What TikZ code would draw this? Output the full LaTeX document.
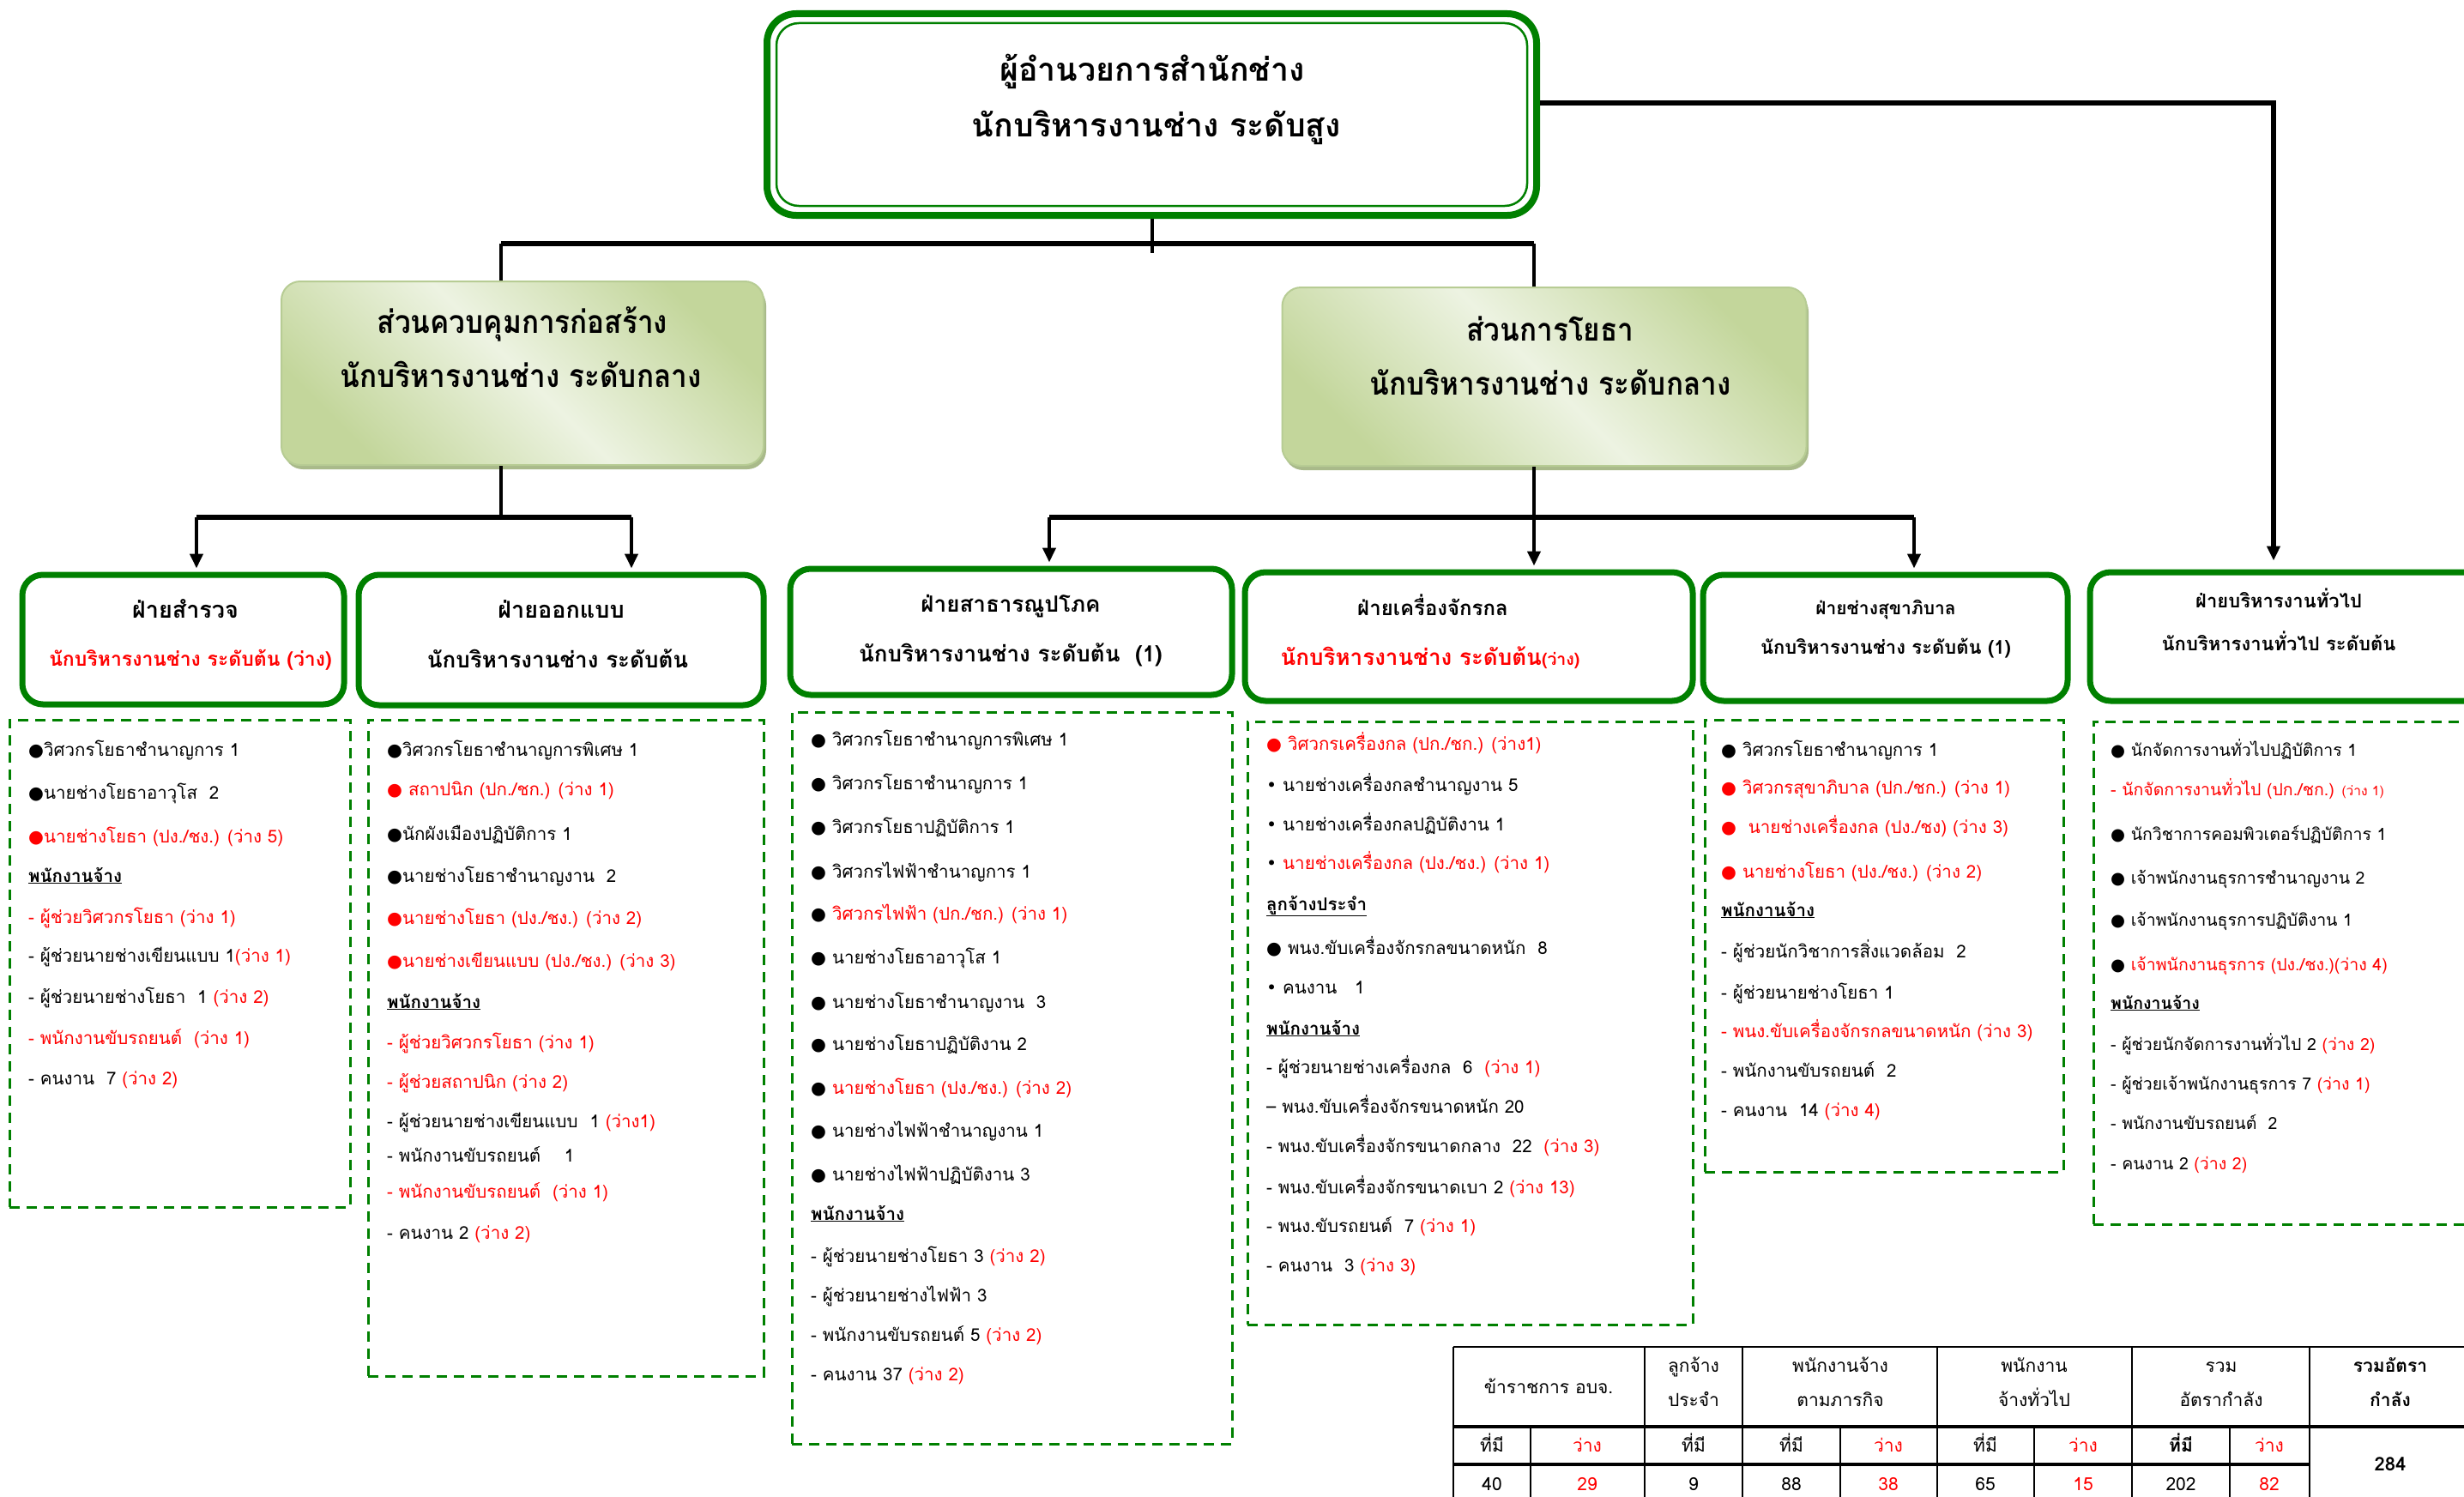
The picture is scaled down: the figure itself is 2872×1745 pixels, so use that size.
\documentclass[tikz,border=0pt]{standalone}
\usepackage{fontspec}
\usetikzlibrary{arrows.meta}
\newfontfamily\thw[Script=Thai]{Loma}
\newfontfamily\thm[Script=Thai,FakeStretch=0.9]{Loma}
\newfontfamily\dvs{DejaVu Sans}
\definecolor{gr}{HTML}{008000}
\definecolor{rdc}{HTML}{FF0000}
\definecolor{gA}{HTML}{C3D69B}
\definecolor{gB}{HTML}{EDF3E2}
\definecolor{gE}{HTML}{B7CC94}
\definecolor{gS}{HTML}{A9BA8A}
\newcommand\R[1]{\textcolor{rdc}{#1}}
\newcommand\B{{\dvs ●}}
\newcommand\SB{{\dvs •}}
\newcommand\U[1]{{\bfseries\underline{#1}}}
\newcommand\Ln[4]{\node[lst] (#1) at (#2,{#3+6}) {#4};}
\newcommand\Lm[4]{\node[lst, font=\thw\fontsize{19.5}{23}\selectfont] (#1) at (#2,{#3+6}) {#4};}
\tikzset{
 tb/.style={anchor=base, inner sep=0pt},
 lst/.style={anchor=base west, inner sep=0pt, font=\thw\fontsize{20.5}{24}\selectfont},
 dept/.style={draw=gr, line width=7pt, rounded corners=24pt, fill=white, inner sep=0pt},
 dbox/.style={draw=gr, line width=3pt, dash pattern=on 12pt off 8pt, inner sep=0pt},
 midbox/.style={draw=gE, line width=2pt, rounded corners=22pt, top color=gA, bottom color=gA, middle color=gB, shading angle=-45, inner sep=0pt},
 conn/.style={line width=4pt, black},
 bar/.style={line width=6pt, black},
 arr/.style={conn, -{Triangle[width=15pt,length=17pt]}},
 tcell/.style={anchor=base, inner sep=0pt, font=\thw\fontsize{21}{24}\selectfont},
 midtxt/.style={tb, font=\thm\bfseries\fontsize{37}{40}\selectfont},
 toptxt/.style={tb, font=\thw\bfseries\fontsize{37.5}{40}\selectfont},
}
\begin{document}
\begin{tikzpicture}[x=1pt,y=-1pt]
\useasboundingbox (0,0) rectangle (2872,1745);
\clip (0,0) rectangle (2872,1745);
\fill[white] (0,0) rectangle (2872,1745);

% ---------- top box
\node[draw=gr, line width=8pt, rounded corners=34pt, minimum width=897pt, minimum height=235pt, inner sep=0pt] (top) at (1342.5,133.5) {};
\draw[gr, line width=2.5pt, rounded corners=26pt] (905,27) rectangle (1780,240);
\node[toptxt] (tt1) at (1343,94) {ผู้อำนวยการสำนักช่าง};
\node[toptxt] (tt2) at (1348,159) {นักบริหารงานช่าง ระดับสูง};

% ---------- middle boxes
\fill[gS, rounded corners=22pt] (331,334) rectangle (893,547);
\node[midbox, minimum width=562pt, minimum height=214pt] (ml) at (609,435) {};
\fill[gS, rounded corners=22pt] (1497,341) rectangle (2108,548);
\node[midbox, minimum width=611pt, minimum height=208pt] (mr) at (1800,439) {};
\node[midtxt] (m1a) at (609,388) {ส่วนควบคุมการก่อสร้าง};
\node[midtxt] (m1b) at (607,451) {นักบริหารงานช่าง ระดับกลาง};
\node[midtxt] (m2a) at (1807,397) {ส่วนการโยธา};
\node[midtxt] (m2b) at (1807,460) {นักบริหารงานช่าง ระดับกลาง};

% ---------- department boxes
\node[dept, minimum width=375pt, minimum height=151pt] (b1) at (213.5,745.5) {};
\node[dept, minimum width=472pt, minimum height=152pt] (b2) at (654,746) {};
\node[dept, minimum width=515pt, minimum height=147pt] (b3) at (1178.5,736.5) {};
\node[dept, minimum width=522pt, minimum height=150pt] (b4) at (1712,742) {};
\node[dept, minimum width=425pt, minimum height=147pt] (b5) at (2197.5,743.5) {};
\node[dept, minimum width=464pt, minimum height=150pt] (b6) at (2668,742) {};

\node[tb, font=\thw\bfseries\fontsize{27}{32}\selectfont] (t1a) at (216,720) {ฝ่ายสำรวจ};
\node[tb, font=\thw\bfseries\fontsize{23}{28}\selectfont, text=rdc] (t1b) at (222,776) {นักบริหารงานช่าง ระดับต้น (ว่าง)};
\node[tb, font=\thw\bfseries\fontsize{27}{30}\selectfont] (t2a) at (654,720) {ฝ่ายออกแบบ};
\node[tb, font=\thw\bfseries\fontsize{26}{30}\selectfont] (t2b) at (650,778) {นักบริหารงานช่าง ระดับต้น};
\node[tb, font=\thw\bfseries\fontsize{26}{30}\selectfont] (t3a) at (1178,713) {ฝ่ายสาธารณูปโภค};
\node[tb, font=\thw\bfseries\fontsize{26}{30}\selectfont] (t3b) at (1178,771) {นักบริหารงานช่าง ระดับต้น~~(1)};
\node[tb, font=\thw\bfseries\fontsize{24}{30}\selectfont] (t4a) at (1670,717) {ฝ่ายเครื่องจักรกล};
\node[tb, font=\thw\bfseries\fontsize{26}{30}\selectfont, text=rdc] (t4b) at (1667,775) {นักบริหารงานช่าง ระดับต้น{\fontsize{19.5}{22}\selectfont(ว่าง)}};
\node[tb, font=\thw\bfseries\fontsize{21}{26}\selectfont] (t5a) at (2198,716) {ฝ่ายช่างสุขาภิบาล};
\node[tb, font=\thw\bfseries\fontsize{22}{26}\selectfont] (t5b) at (2198,762) {นักบริหารงานช่าง ระดับต้น (1)};
\node[tb, font=\thw\bfseries\fontsize{22}{26}\selectfont] (t6a) at (2656,708) {ฝ่ายบริหารงานทั่วไป};
\node[tb, font=\thw\bfseries\fontsize{22}{26}\selectfont] (t6b) at (2656,758) {นักบริหารงานทั่วไป ระดับต้น};

% ---------- connectors
\coordinate (jl) at (584,284);
\coordinate (jr) at (1788,284);
\coordinate (jb) at (1342.5,295);
\draw[conn] (top.south) -- (jb);
\draw[bar] (jl) -- (jr);
\draw[conn] (jl) -- (jl |- ml.north);
\draw[conn] (jr) -- (jr |- mr.north);

\coordinate (kl) at (584,603);
\coordinate (kl1) at (229,603);
\coordinate (kl2) at (736,603);
\draw[conn] (kl |- ml.south) -- (kl);
\draw[bar] (kl1) -- (kl2);
\draw[arr] (kl1) -- ([yshift=4pt]kl1 |- b1.north);
\draw[arr] (kl2) -- ([yshift=4pt]kl2 |- b2.north);

\coordinate (kr) at (1788,603);
\coordinate (kr1) at (1223,603);
\coordinate (kr2) at (2231,603);
\draw[arr] (kr |- mr.south) -- ([yshift=4pt]kr |- b4.north);
\draw[bar] (kr1) -- (kr2);
\draw[arr] (kr1) -- ([yshift=4pt]kr1 |- b3.north);
\draw[arr] (kr2) -- ([yshift=4pt]kr2 |- b5.north);

\coordinate (tr) at (2650,120);
\draw[bar, -{Triangle[width=15pt,length=17pt]}] (top.east |- tr) -- (tr) -- ([yshift=10pt]tr |- b6.north);

% ---------- dashed list boxes
\node[dbox, minimum width=397pt, minimum height=568pt] (d1) at (209.5,1123) {};
\node[dbox, minimum width=461pt, minimum height=765pt] (d2) at (659.5,1221.5) {};
\node[dbox, minimum width=513pt, minimum height=853pt] (d3) at (1179.5,1256.5) {};
\node[dbox, minimum width=519pt, minimum height=703pt] (d4) at (1713.5,1192.5) {};
\node[dbox, minimum width=418pt, minimum height=527pt] (d5) at (2196,1102.5) {};
\node[dbox, minimum width=450pt, minimum height=586pt] (d6) at (2665,1134) {};

% ---------- list 1
\Ln{l1a}{33}{875}{\B วิศวกรโยธาชำนาญการ 1}
\Ln{l1b}{33}{925}{\B นายช่างโยธาอาวุโส~~2}
\Ln{l1c}{33}{976}{\R{\B นายช่างโยธา (ปง./ชง.) (ว่าง 5)}}
\Ln{l1d}{33}{1022}{\U{พนักงานจ้าง}}
\Ln{l1e}{33}{1070}{\R{- ผู้ช่วยวิศวกรโยธา (ว่าง 1)}}
\Ln{l1f}{33}{1115}{- ผู้ช่วยนายช่างเขียนแบบ 1\R{(ว่าง 1)}}
\Ln{l1g}{33}{1163}{- ผู้ช่วยนายช่างโยธา~~1 \R{(ว่าง 2)}}
\Ln{l1h}{33}{1211}{\R{- พนักงานขับรถยนต์~~(ว่าง 1)}}
\Ln{l1i}{33}{1258}{- คนงาน~~7 \R{(ว่าง 2)}}

% ---------- list 2
\Ln{l2a}{451}{875}{\B วิศวกรโยธาชำนาญการพิเศษ 1}
\Ln{l2b}{451}{921}{\R{\B~สถาปนิก (ปก./ชก.) (ว่าง 1)}}
\Ln{l2c}{451}{973}{\B นักผังเมืองปฏิบัติการ 1}
\Ln{l2d}{451}{1022}{\B นายช่างโยธาชำนาญงาน~~2}
\Ln{l2e}{451}{1071}{\R{\B นายช่างโยธา (ปง./ชง.) (ว่าง 2)}}
\Ln{l2f}{451}{1121}{\R{\B นายช่างเขียนแบบ (ปง./ชง.) (ว่าง 3)}}
\Ln{l2g}{451}{1169}{\U{พนักงานจ้าง}}
\Ln{l2h}{451}{1216}{\R{- ผู้ช่วยวิศวกรโยธา (ว่าง 1)}}
\Ln{l2i}{451}{1262}{\R{- ผู้ช่วยสถาปนิก (ว่าง 2)}}
\Ln{l2j}{451}{1308}{- ผู้ช่วยนายช่างเขียนแบบ~~1 \R{(ว่าง1)}}
\Ln{l2k}{451}{1348}{- พนักงานขับรถยนต์~~~~1}
\Ln{l2l}{451}{1390}{\R{- พนักงานขับรถยนต์~~(ว่าง 1)}}
\Ln{l2m}{451}{1438}{- คนงาน 2 \R{(ว่าง 2)}}

% ---------- list 3
\Ln{l3a}{945}{863}{\B\ วิศวกรโยธาชำนาญการพิเศษ 1}
\Ln{l3b}{945}{914}{\B\ วิศวกรโยธาชำนาญการ 1}
\Ln{l3c}{945}{965}{\B\ วิศวกรโยธาปฏิบัติการ 1}
\Ln{l3d}{945}{1017}{\B\ วิศวกรไฟฟ้าชำนาญการ 1}
\Ln{l3e}{945}{1066}{\B\ \R{วิศวกรไฟฟ้า (ปก./ชก.) (ว่าง 1)}}
\Ln{l3f}{945}{1117}{\B\ นายช่างโยธาอาวุโส 1}
\Ln{l3g}{945}{1169}{\B\ นายช่างโยธาชำนาญงาน~~3}
\Ln{l3h}{945}{1218}{\B\ นายช่างโยธาปฏิบัติงาน 2}
\Ln{l3i}{945}{1269}{\B\ \R{นายช่างโยธา (ปง./ชง.) (ว่าง 2)}}
\Ln{l3j}{945}{1319}{\B\ นายช่างไฟฟ้าชำนาญงาน 1}
\Ln{l3k}{945}{1370}{\B\ นายช่างไฟฟ้าปฏิบัติงาน 3}
\Ln{l3l}{945}{1416}{\U{พนักงานจ้าง}}
\Ln{l3m}{945}{1465}{- ผู้ช่วยนายช่างโยธา 3 \R{(ว่าง 2)}}
\Ln{l3n}{945}{1511}{- ผู้ช่วยนายช่างไฟฟ้า 3}
\Ln{l3o}{945}{1557}{- พนักงานขับรถยนต์ 5 \R{(ว่าง 2)}}
\Ln{l3p}{945}{1603}{- คนงาน 37 \R{(ว่าง 2)}}

% ---------- list 4
\Ln{l4a}{1476}{868}{\R{\B\ วิศวกรเครื่องกล (ปก./ชก.) (ว่าง1)}}
\Ln{l4b}{1476}{916}{\SB\ นายช่างเครื่องกลชำนาญงาน 5}
\Ln{l4c}{1476}{962}{\SB\ นายช่างเครื่องกลปฏิบัติงาน 1}
\Ln{l4d}{1476}{1007}{\SB\ \R{นายช่างเครื่องกล (ปง./ชง.) (ว่าง 1)}}
\Ln{l4e}{1476}{1055}{\U{ลูกจ้างประจำ}}
\Ln{l4f}{1476}{1106}{\B\ พนง.ขับเครื่องจักรกลขนาดหนัก~~8}
\Ln{l4g}{1476}{1152}{\SB\ คนงาน~~~1}
\Ln{l4h}{1476}{1200}{\U{พนักงานจ้าง}}
\Ln{l4i}{1476}{1245}{- ผู้ช่วยนายช่างเครื่องกล~~6~~\R{(ว่าง 1)}}
\Ln{l4j}{1476}{1291}{– พนง.ขับเครื่องจักรขนาดหนัก 20}
\Ln{l4k}{1476}{1337}{- พนง.ขับเครื่องจักรขนาดกลาง~~22~~\R{(ว่าง 3)}}
\Ln{l4l}{1476}{1385}{- พนง.ขับเครื่องจักรขนาดเบา 2 \R{(ว่าง 13)}}
\Ln{l4m}{1476}{1430}{- พนง.ขับรถยนต์~~7 \R{(ว่าง 1)}}
\Ln{l4n}{1476}{1476}{- คนงาน~~3 \R{(ว่าง 3)}}

% ---------- list 5
\Ln{l5a}{2006}{875}{\B\ วิศวกรโยธาชำนาญการ 1}
\Ln{l5b}{2006}{919}{\R{\B\ วิศวกรสุขาภิบาล (ปก./ชก.) (ว่าง 1)}}
\Ln{l5c}{2006}{965}{\R{\B~~นายช่างเครื่องกล (ปง./ชง) (ว่าง 3)}}
\Ln{l5d}{2006}{1017}{\R{\B\ นายช่างโยธา (ปง./ชง.) (ว่าง 2)}}
\Ln{l5e}{2006}{1062}{\U{พนักงานจ้าง}}
\Ln{l5f}{2006}{1110}{- ผู้ช่วยนักวิชาการสิ่งแวดล้อม~~2}
\Ln{l5g}{2006}{1158}{- ผู้ช่วยนายช่างโยธา 1}
\Ln{l5h}{2006}{1203}{\R{- พนง.ขับเครื่องจักรกลขนาดหนัก (ว่าง 3)}}
\Ln{l5i}{2006}{1249}{- พนักงานขับรถยนต์~~2}
\Ln{l5j}{2006}{1295}{- คนงาน~~14 \R{(ว่าง 4)}}

% ---------- list 6
\Lm{l6a}{2460}{875}{\B\ นักจัดการงานทั่วไปปฏิบัติการ 1}
\Lm{l6b}{2460}{921}{\R{- นักจัดการงานทั่วไป (ปก./ชก.) {\fontsize{15.5}{20}\selectfont(ว่าง 1)}}}
\Lm{l6c}{2460}{973}{\B\ นักวิชาการคอมพิวเตอร์ปฏิบัติการ 1}
\Lm{l6d}{2460}{1024}{\B\ เจ้าพนักงานธุรการชำนาญงาน 2}
\Lm{l6e}{2460}{1073}{\B\ เจ้าพนักงานธุรการปฏิบัติงาน 1}
\Lm{l6f}{2460}{1125}{\B\ \R{เจ้าพนักงานธุรการ (ปง./ชง.)(ว่าง 4)}}
\Lm{l6g}{2460}{1170}{\U{พนักงานจ้าง}}
\Lm{l6h}{2460}{1218}{- ผู้ช่วยนักจัดการงานทั่วไป 2 \R{(ว่าง 2)}}
\Lm{l6i}{2460}{1264}{- ผู้ช่วยเจ้าพนักงานธุรการ 7 \R{(ว่าง 1)}}
\Lm{l6j}{2460}{1310}{- พนักงานขับรถยนต์~~2}
\Lm{l6k}{2460}{1357}{- คนงาน 2 \R{(ว่าง 2)}}

% ---------- table
\draw[line width=2.5pt] (1694,1570) -- (2880,1570);
\draw[line width=4pt] (1694,1663) -- (2880,1663);
\draw[line width=4pt] (1694,1707) -- (2692,1707);
\foreach \xx in {1694,1917,2031,2258,2485,2692} \draw[line width=1.5pt] (\xx,1570) -- (\xx,1750);
\foreach \xx in {1784,2145,2371,2599} \draw[line width=1.5pt] (\xx,1663) -- (\xx,1750);
\node[tcell] (h1) at (1805,1624) {ข้าราชการ อบจ.};
\node[tcell] (h2a) at (1974,1599) {ลูกจ้าง};
\node[tcell] (h2b) at (1974,1639) {ประจำ};
\node[tcell] (h3a) at (2145,1599) {พนักงานจ้าง};
\node[tcell] (h3b) at (2145,1639) {ตามภารกิจ};
\node[tcell] (h4a) at (2371,1599) {พนักงาน};
\node[tcell] (h4b) at (2371,1639) {จ้างทั่วไป};
\node[tcell] (h5a) at (2589,1599) {รวม};
\node[tcell] (h5b) at (2589,1639) {อัตรากำลัง};
\node[tcell, font=\thw\bfseries\fontsize{21}{24}\selectfont] (h6a) at (2786,1599) {รวมอัตรา};
\node[tcell, font=\thw\bfseries\fontsize{21}{24}\selectfont] (h6b) at (2786,1639) {กำลัง};
\node[tcell] (s1) at (1739,1692) {ที่มี};
\node[tcell, text=rdc] (s2) at (1850,1692) {ว่าง};
\node[tcell] (s3) at (1974,1692) {ที่มี};
\node[tcell] (s4) at (2088,1692) {ที่มี};
\node[tcell, text=rdc] (s5) at (2201,1692) {ว่าง};
\node[tcell] (s6) at (2314,1692) {ที่มี};
\node[tcell, text=rdc] (s7) at (2428,1692) {ว่าง};
\node[tcell, font=\thw\bfseries\fontsize{21}{24}\selectfont] (s8) at (2542,1692) {ที่มี};
\node[tcell, text=rdc] (s9) at (2645,1692) {ว่าง};
\node[tcell] (v1) at (1739,1737) {40};
\node[tcell, text=rdc] (v2) at (1850,1737) {29};
\node[tcell] (v3) at (1974,1737) {9};
\node[tcell] (v4) at (2088,1737) {88};
\node[tcell, text=rdc] (v5) at (2201,1737) {38};
\node[tcell] (v6) at (2314,1737) {65};
\node[tcell, text=rdc] (v7) at (2428,1737) {15};
\node[tcell] (v8) at (2542,1737) {202};
\node[tcell, text=rdc] (v9) at (2645,1737) {82};
\node[tcell, font=\thw\bfseries\fontsize{22}{24}\selectfont] (tot) at (2786,1714) {284};
\end{tikzpicture}
\end{document}
